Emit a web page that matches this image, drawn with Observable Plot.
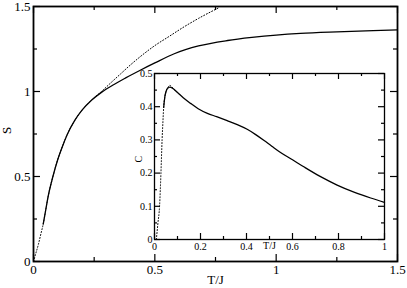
<!DOCTYPE html>
<html>
<head>
<meta charset="utf-8">
<script src="https://cdn.jsdelivr.net/npm/d3@7"></script>
<script src="https://cdn.jsdelivr.net/npm/@observablehq/plot@0.6"></script>
<style>
  body { margin: 0; background: white; }
  #wrap { position: relative; width: 407px; height: 288px; }
  #wrap svg { position: absolute; overflow: visible; }
  #wrap svg, #wrap svg text { font-family: "Liberation Serif", "Times New Roman", "DejaVu Serif", serif !important; }
</style>
</head>
<body>
<div id="wrap"></div>
<script>
// Main panel: entropy S vs T/J
const sSolidT = [0.04, 0.05, 0.06, 0.08, 0.10, 0.12, 0.14, 0.17, 0.20, 0.24, 0.28, 0.33, 0.38, 0.44, 0.50, 0.58, 0.68, 0.80, 0.90, 1.00, 1.10, 1.25, 1.40, 1.50];
const sSolidS = [0.22, 0.30, 0.38, 0.50, 0.60, 0.68, 0.75, 0.83, 0.89, 0.95, 0.995, 1.04, 1.08, 1.125, 1.168, 1.222, 1.268, 1.30, 1.318, 1.332, 1.342, 1.351, 1.358, 1.362];
const sDotT = [0.0, 0.01, 0.02, 0.03, 0.04, 0.05, 0.06, 0.08, 0.10, 0.12, 0.14, 0.17, 0.20, 0.24, 0.28, 0.32, 0.36, 0.40, 0.44, 0.50, 0.56, 0.62, 0.68, 0.76];
const sDotS = [0.0, 0.05, 0.10, 0.16, 0.22, 0.30, 0.38, 0.50, 0.60, 0.68, 0.75, 0.83, 0.89, 0.95, 1.0, 1.053, 1.105, 1.157, 1.205, 1.27, 1.325, 1.38, 1.43, 1.49];
const mainXMajor = [0, 0.5, 1, 1.5];
const mainXMinor = [0.25, 0.75, 1.25];
const mainYMajor = [0, 0.5, 1, 1.5];
const mainYMinor = [0.25, 0.75, 1.25];

// Inset: specific heat C vs T/J
const cSolidT = [0.04, 0.045, 0.05, 0.057, 0.067, 0.08, 0.10, 0.125, 0.157, 0.19, 0.23, 0.27, 0.316, 0.36, 0.403, 0.44, 0.475, 0.51, 0.548, 0.60, 0.649, 0.72, 0.794, 0.87, 0.94, 1.0];
const cSolidC = [0.398, 0.43, 0.445, 0.455, 0.459, 0.455, 0.443, 0.427, 0.41, 0.394, 0.38, 0.37, 0.358, 0.346, 0.332, 0.316, 0.299, 0.281, 0.262, 0.24, 0.219, 0.19, 0.164, 0.142, 0.125, 0.112];
const cDotT = [0.008, 0.015, 0.022, 0.028, 0.033, 0.037, 0.04, 0.045, 0.05, 0.058, 0.067, 0.075, 0.085, 0.10];
const cDotC = [0.0, 0.05, 0.10, 0.20, 0.30, 0.36, 0.40, 0.43, 0.447, 0.458, 0.464, 0.46, 0.452, 0.443];
const insetXMajor = [0, 0.2, 0.4, 0.6, 0.8, 1];
const insetXMinor = [0.1, 0.3, 0.5, 0.7, 0.9];
const insetYMajor = [0, 0.1, 0.2, 0.3, 0.4, 0.5];
const insetYMinor = [0.05, 0.15, 0.25, 0.35, 0.45];

const zip = (a, b) => a.map((v, i) => ({x: v, y: b[i]}));
const font = "Liberation Serif";

function tickMarks(xMaj, xMin, yMaj, yMin, ph, pw, maj, min) {
  const id = d => d;
  return [
    Plot.tickX(xMaj, {x: id, insetTop: ph - maj, strokeWidth: 1.2}),
    Plot.tickX(xMin, {x: id, insetTop: ph - min, strokeWidth: 1.2}),
    Plot.tickX(xMaj, {x: id, insetBottom: ph - maj, strokeWidth: 1.2}),
    Plot.tickX(xMin, {x: id, insetBottom: ph - min, strokeWidth: 1.2}),
    Plot.tickY(yMaj, {y: id, insetRight: pw - maj, strokeWidth: 1.2}),
    Plot.tickY(yMin, {y: id, insetRight: pw - min, strokeWidth: 1.2}),
    Plot.tickY(yMaj, {y: id, insetLeft: pw - maj, strokeWidth: 1.2}),
    Plot.tickY(yMin, {y: id, insetLeft: pw - min, strokeWidth: 1.2})
  ];
}

// Main plot geometry
const W = 407, H = 288, mL = 33, mR = 10, mT = 6, mB = 27;
const pw = W - mL - mR, ph = H - mT - mB;

const main = Plot.plot({
  width: W, height: H,
  marginLeft: mL, marginRight: mR, marginTop: mT, marginBottom: mB,
  x: {domain: [0, 1.5]},
  y: {domain: [0, 1.5]},
  style: {fontSize: "13px", background: "transparent", color: "black"},
  marks: [
    Plot.line(zip(sDotT, sDotS), {x: "x", y: "y", stroke: "black", strokeWidth: 1, strokeDasharray: "1,2", curve: "monotone-x"}),
    Plot.line(zip(sSolidT, sSolidS), {x: "x", y: "y", stroke: "black", strokeWidth: 1.3, curve: "monotone-x"}),
    ...tickMarks(mainXMajor, mainXMinor, mainYMajor, mainYMinor, ph, pw, 7, 4),
    Plot.frame({stroke: "black", strokeWidth: 1.8}),
    Plot.axisX(mainXMajor, {tickSize: 0, tickPadding: 3, tickFormat: d => String(d), label: null, fontSize: 13, fontFamily: font}),
    Plot.axisY(mainYMajor, {tickSize: 0, tickPadding: 3, tickFormat: d => String(d), label: null, fontSize: 13, fontFamily: font}),
    Plot.text(["T/J"], {frameAnchor: "bottom", dy: 22, text: d => d, fontSize: 13, fontFamily: font}),
    Plot.text(["S"], {frameAnchor: "left", dx: -27, rotate: -90, text: d => d, fontSize: 13, fontFamily: font})
  ]
});
main.style.left = "0px";
main.style.top = "0px";

// Inset geometry: plot area 154..384 x 73..239
const iLeft = 120, iTop = 63, iW = 275, iH = 195;
const imL = 154 - iLeft, imR = iLeft + iW - 384, imT = 73 - iTop, imB = iTop + iH - 239;
const ipw = iW - imL - imR, iph = iH - imT - imB;

const inset = Plot.plot({
  width: iW, height: iH,
  marginLeft: imL, marginRight: imR, marginTop: imT, marginBottom: imB,
  x: {domain: [0, 1]},
  y: {domain: [0, 0.5]},
  style: {fontSize: "10px", background: "transparent", color: "black"},
  marks: [
    Plot.frame({fill: "white", stroke: "none"}),
    Plot.line(zip(cDotT, cDotC), {x: "x", y: "y", stroke: "black", strokeWidth: 1, strokeDasharray: "1,2", curve: "monotone-x"}),
    Plot.line(zip(cSolidT, cSolidC), {x: "x", y: "y", stroke: "black", strokeWidth: 1.3, curve: "monotone-x"}),
    ...tickMarks(insetXMajor, insetXMinor, insetYMajor, insetYMinor, iph, ipw, 6, 3),
    Plot.frame({stroke: "black", strokeWidth: 1.3}),
    Plot.axisX(insetXMajor, {tickSize: 0, tickPadding: 3, tickFormat: d => String(d), label: null, fontSize: 10, fontFamily: font}),
    Plot.axisY(insetYMajor, {tickSize: 0, tickPadding: 2, tickFormat: d => String(d), label: null, fontSize: 10, fontFamily: font}),
    Plot.text(["T/J"], {x: [0.5], frameAnchor: "bottom", dy: 9, text: d => d, fontSize: 10, fontFamily: font}),
    Plot.text(["C"], {frameAnchor: "left", dx: -16, dy: 6, rotate: -90, text: d => d, fontSize: 10, fontFamily: font})
  ]
});
inset.style.left = iLeft + "px";
inset.style.top = iTop + "px";

const wrap = document.getElementById("wrap");
wrap.appendChild(main);
wrap.appendChild(inset);
</script>
</body>
</html>
